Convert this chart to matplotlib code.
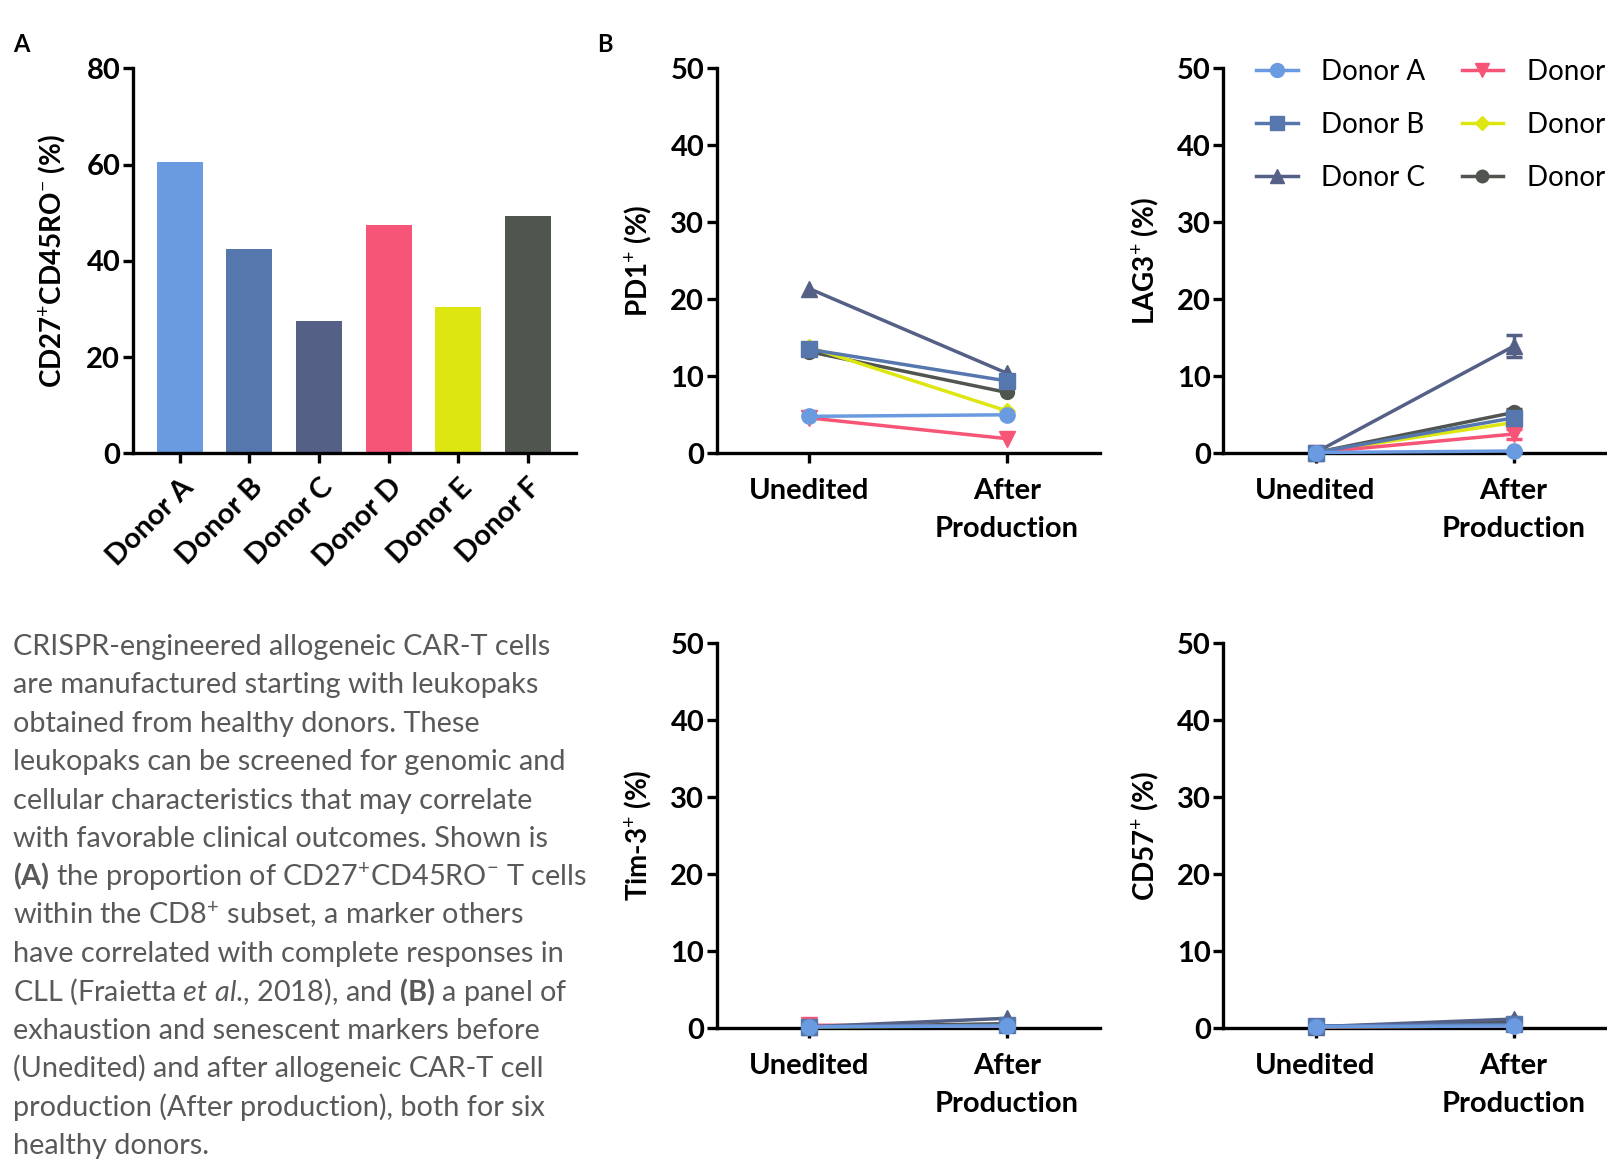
import matplotlib
matplotlib.use("Agg")
import matplotlib.pyplot as plt
from matplotlib.lines import Line2D

plt.rcParams['font.family'] = ['Lato', 'DejaVu Sans']
plt.rcParams['mathtext.fontset'] = 'custom'
plt.rcParams['mathtext.rm'] = 'Lato'
plt.rcParams['mathtext.it'] = 'Lato:italic'
plt.rcParams['mathtext.bf'] = 'Lato:bold'

# ---- data ----
donors = ["Donor A", "Donor B", "Donor C", "Donor D", "Donor E", "Donor F"]
colors = ["#6A9BE0", "#5677AD", "#556087", "#F75577", "#DDE610", "#51554F"]
markers = ["o", "s", "^", "v", "D", "o"]
msizes = [11, 11, 11, 11, 8, 10]

naive_pct = [60.5, 42.4, 27.4, 47.4, 30.4, 49.3]

stages = ["Unedited", "After\nProduction"]
pd1 = [[4.8, 5.0], [13.5, 9.4], [21.4, 10.4], [4.6, 1.9], [13.8, 5.5], [13.2, 7.9]]
lag3 = [[0.1, 0.3], [0.1, 4.6], [0.1, 13.9], [0.1, 2.5], [0.1, 4.0], [0.1, 5.3]]
lag3_err = [[0, 0.1], [0, 0.5], [0, 1.4], [0, 0.6], [0, 0.4], [0, 0.4]]
tim3 = [[0.2, 0.3], [0.2, 0.4], [0.2, 1.3], [0.4, 0.3], [0.2, 0.3], [0.2, 0.6]]
cd57 = [[0.2, 0.3], [0.3, 0.5], [0.2, 1.2], [0.2, 0.3], [0.2, 0.3], [0.2, 0.8]]

caption = [
    "CRISPR-engineered allogeneic CAR-T cells",
    "are manufactured starting with leukopaks",
    "obtained from healthy donors. These",
    "leukopaks can be screened for genomic and",
    "cellular characteristics that may correlate",
    "with favorable clinical outcomes. Shown is",
    r"$\mathbf{(A)}$ the proportion of CD27$^{+}$CD45RO$^{-}$ T cells",
    r"within the CD8$^{+}$ subset, a marker others",
    "have correlated with complete responses in",
    r"CLL (Fraietta $\mathit{et\ al}$., 2018), and $\mathbf{(B)}$ a panel of",
    "exhaustion and senescent markers before",
    "(Unedited) and after allogeneic CAR-T cell",
    "production (After production), both for six",
    "healthy donors.",
]

W, H = 1608, 1163
fig = plt.figure(figsize=(W / 100, H / 100), dpi=100)


def px_axes(x0, y0, x1, y1):
    return fig.add_axes([x0 / W, 1 - y1 / H, (x1 - x0) / W, (y1 - y0) / H])


def style(ax):
    for s in ["top", "right"]:
        ax.spines[s].set_visible(False)
    for s in ["left", "bottom"]:
        ax.spines[s].set_linewidth(2.4)
    ax.tick_params(width=2.4, length=7, labelsize=21, colors="black")
    ax.tick_params(axis="y", pad=2)
    for lab in ax.get_xticklabels() + ax.get_yticklabels():
        lab.set_fontweight("bold")


# ---- panel A ----
axA = px_axes(132.7, 68.3, 576, 453.3)
x = range(len(donors))
axA.bar(x, naive_pct, width=0.66, color=colors)
axA.set_xlim(-0.675, 5.69)
axA.set_ylim(0, 80)
axA.set_yticks([0, 20, 40, 60, 80])
axA.set_xticks(list(x))
axA.set_xticklabels(donors, rotation=45, ha="right", rotation_mode="anchor")
style(axA)
axA.tick_params(axis="x", pad=8)
axA.set_ylabel(r"CD27$^{+}$CD45RO$^{-}$ (%)", fontsize=20, fontweight="bold")
axA.yaxis.set_label_coords(-0.145, 0.5)


# ---- panel B ----
def line_panel(ax, data, label, err=None):
    for i in reversed(range(len(donors))):
        yerr = err[i] if err is not None else None
        ax.errorbar([0, 1], data[i], yerr=yerr, color=colors[i], marker=markers[i],
                    ms=msizes[i], lw=2.5, capsize=6, capthick=2.5, elinewidth=2.5,
                    clip_on=False, zorder=3)
    ax.set_xlim(-0.466, 1.47)
    ax.set_ylim(0, 50)
    ax.set_yticks([0, 10, 20, 30, 40, 50])
    ax.set_xticks([0, 1])
    ax.set_xticklabels(stages, linespacing=1.55)
    style(ax)
    ax.tick_params(axis="x", pad=11)
    ax.set_ylabel(label, fontsize=20, fontweight="bold")
    ax.yaxis.set_label_coords(-0.163, 0.5)


ax1 = px_axes(716.7, 68.3, 1100, 453.3)
line_panel(ax1, pd1, r"PD1$^{+}$ (%)")
ax2 = px_axes(1223.3, 68.3, 1606.6, 453.3)
line_panel(ax2, lag3, r"LAG3$^{+}$ (%)", lag3_err)
ax3 = px_axes(716.7, 643.3, 1100, 1028.3)
line_panel(ax3, tim3, r"Tim-3$^{+}$ (%)")
ax4 = px_axes(1223.3, 643.3, 1606.6, 1028.3)
line_panel(ax4, cd57, r"CD57$^{+}$ (%)")

# legend runs off the right edge, as in the original figure
handles = [Line2D([], [], color=colors[i], marker=markers[i], ms=msizes[i] - 1, lw=2.5)
           for i in range(len(donors))]
fig.legend(handles, donors, loc="upper left", bbox_to_anchor=(1256 / W, 1 - 59 / H),
           ncol=2, frameon=False, fontsize=20, handlelength=1.5, handletextpad=0.85,
           columnspacing=1.3, labelspacing=0.97, borderpad=0, borderaxespad=0)

# ---- panel letters ----
fig.text(13 / W, 1 - 52 / H, "A", fontsize=17, fontweight="bold", va="baseline")
fig.text(597 / W, 1 - 52 / H, "B", fontsize=17, fontweight="bold", va="baseline")

# ---- caption ----
for k, line in enumerate(caption):
    fig.text(13 / W, 1 - (655 + 38.4 * k) / H, line, fontsize=20.8, color="#595959",
             va="baseline", ha="left")

fig.savefig("out.png", dpi=100)
